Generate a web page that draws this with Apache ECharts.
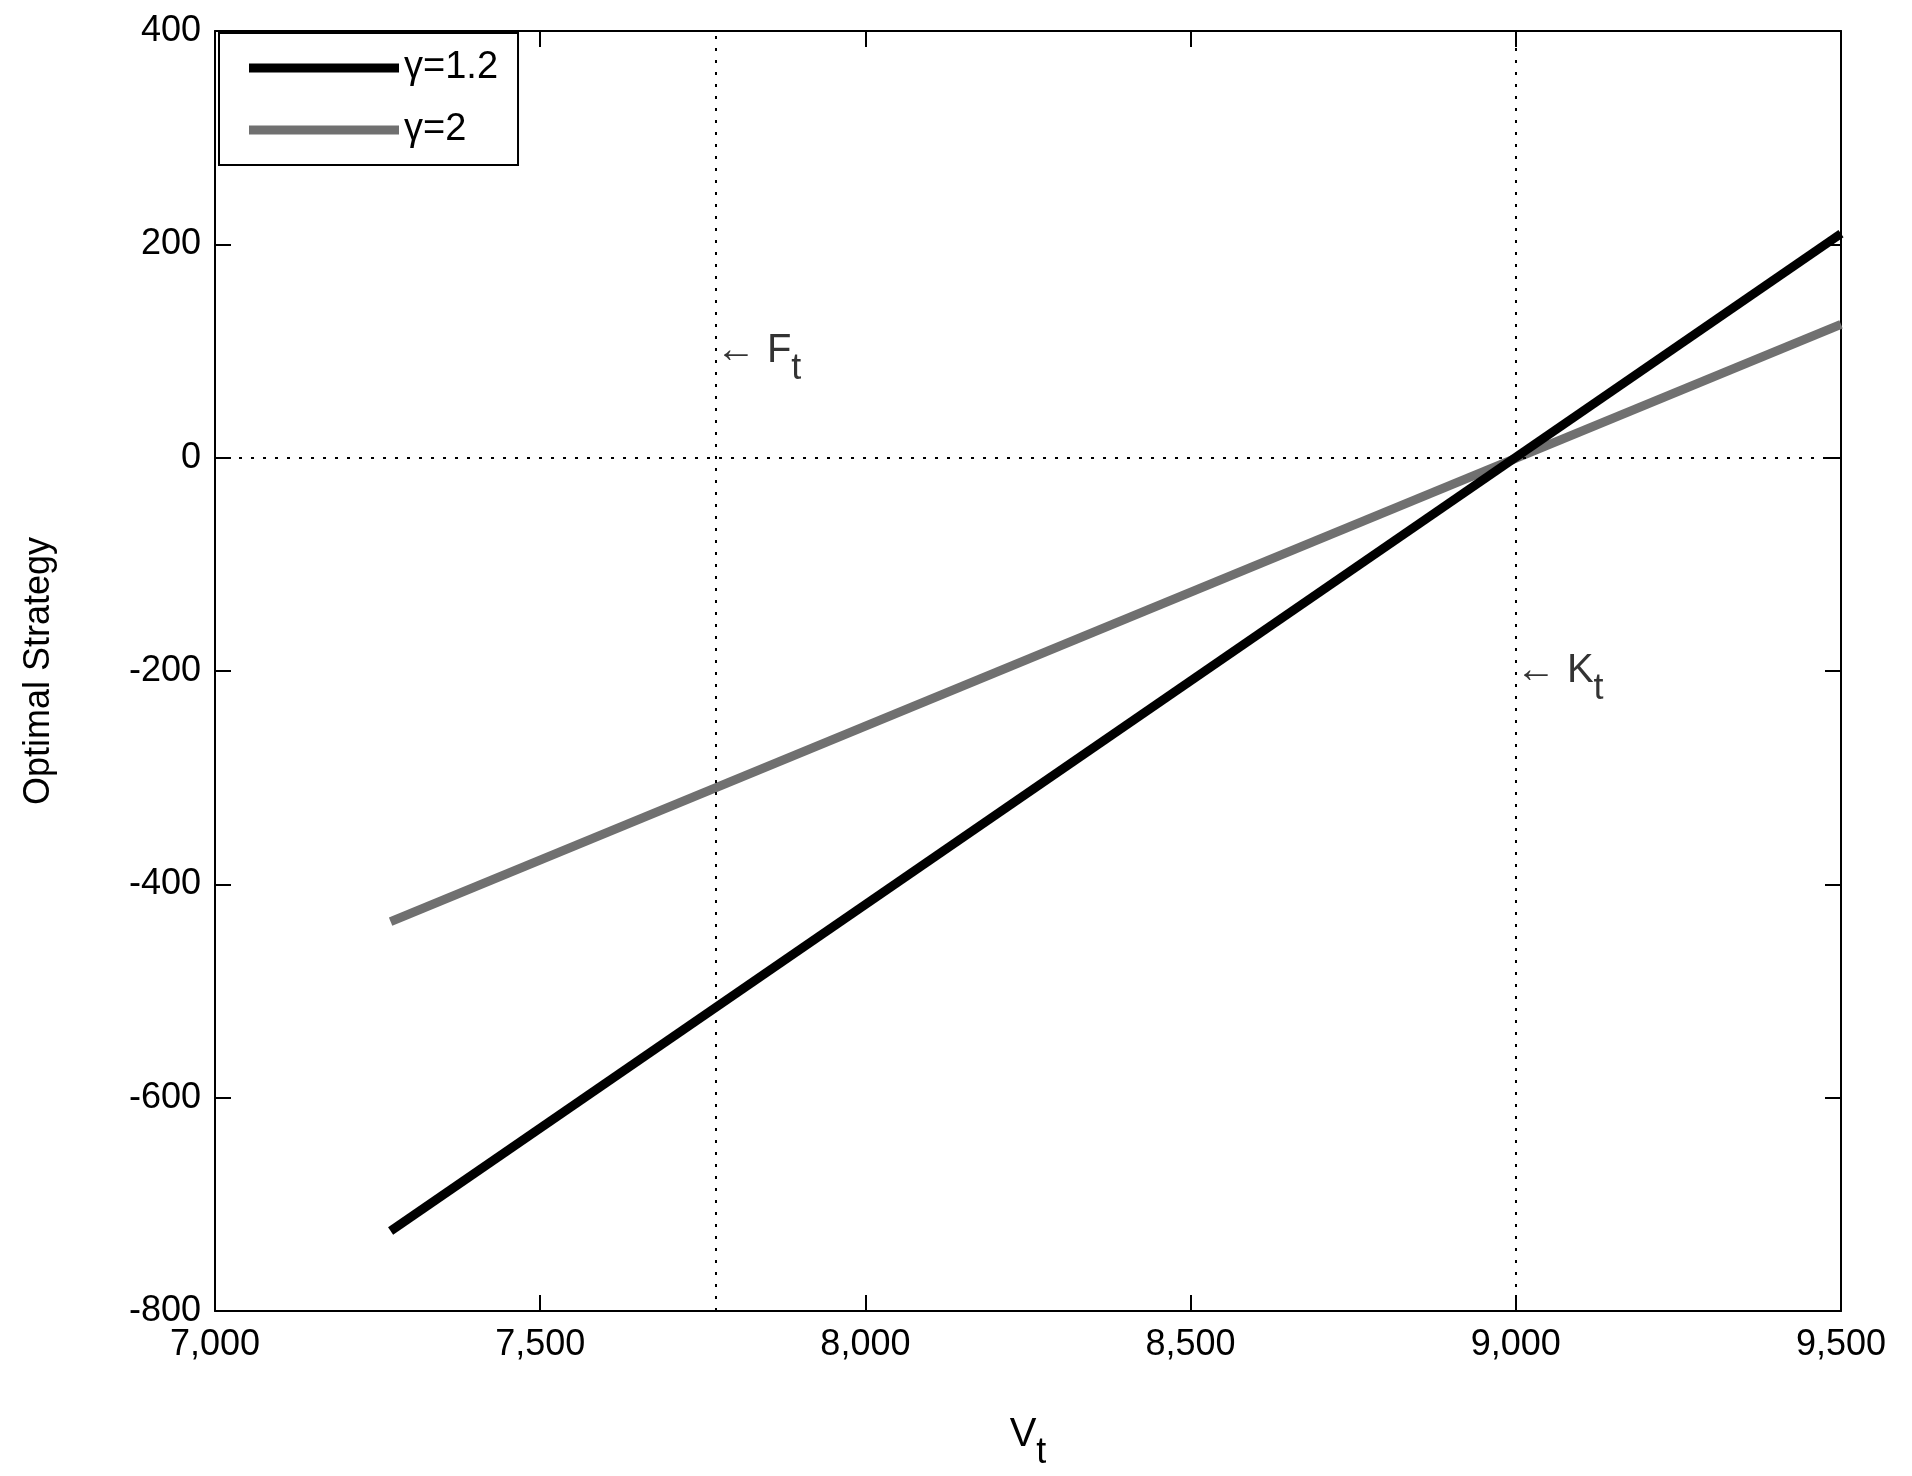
<!DOCTYPE html>
<html>
<head>
<meta charset="utf-8">
<script src="https://cdn.jsdelivr.net/npm/echarts@6/dist/echarts.min.js"></script>
<style>html,body{margin:0;padding:0;background:#fff}#chart{width:1912px;height:1476px}</style>
</head>
<body>
<div id="chart"></div>
<script>
// data
const xTicks = [7000, 9500, 500];
const yTicks = [-800, 400, 200];
const gamma12 = [[7270, -725], [9500, 210]];
const gamma2 = [[7270, -435], [9500, 125]];
const fLine = 7770;
const kLine = 9000;
const notes = [[7770, 100, 'F'], [9000, -200, 'K']];

const font = 'Liberation Sans, Arial, sans-serif';
const chart = echarts.init(document.getElementById('chart'));

const axisCommon = {
    axisLine: { show: true, onZero: false, lineStyle: { color: '#000', width: 2 } },
    axisTick: { show: true, inside: true, length: 16, lineStyle: { color: '#000', width: 2 } },
    splitLine: { show: false }
};

let option = {
    backgroundColor: '#fff',
    animation: false,
    grid: { left: 215, right: 71, top: 31, bottom: 162 },
    legend: {
        left: 219, top: 33, orient: 'vertical',
        padding: [16, 20, 16, 30],
        itemGap: 24,
        borderColor: '#000', borderWidth: 2, backgroundColor: '#fff',
        icon: 'rect', itemWidth: 150, itemHeight: 9,
        textStyle: { fontFamily: font, fontSize: 38, color: '#000' },
        data: ['γ=1.2', 'γ=2']
    },
    xAxis: [
        Object.assign({
            type: 'value', min: xTicks[0], max: xTicks[1], interval: xTicks[2],
            position: 'bottom',
            name: '{b|V}{s|t}', nameLocation: 'middle', nameGap: 88,
            nameTextStyle: { rich: {
                b: { fontFamily: font, fontSize: 40, color: '#000' },
                s: { fontFamily: font, fontSize: 36, color: '#000', padding: [36, 0, 0, 0] }
            } },
            axisLabel: { fontFamily: font, fontSize: 36, color: '#000', margin: 16 }
        }, axisCommon),
        Object.assign({
            type: 'value', min: xTicks[0], max: xTicks[1], interval: xTicks[2],
            position: 'top', axisLabel: { show: false }
        }, axisCommon)
    ],
    yAxis: [
        Object.assign({
            type: 'value', min: yTicks[0], max: yTicks[1], interval: yTicks[2],
            position: 'left',
            name: 'Optimal Strategy', nameLocation: 'middle', nameGap: 158,
            nameTextStyle: { fontFamily: font, fontSize: 36, color: '#000' },
            axisLabel: { fontFamily: font, fontSize: 36, color: '#000', margin: 14 }
        }, axisCommon),
        Object.assign({
            type: 'value', min: yTicks[0], max: yTicks[1], interval: yTicks[2],
            position: 'right', axisLabel: { show: false }
        }, axisCommon)
    ],
    series: [
        {
            name: 'γ=1.2', type: 'line', data: gamma12, showSymbol: false, z: 5,
            lineStyle: { color: '#000', width: 9 }, itemStyle: { color: '#000' },
            markLine: {
                silent: true, symbol: 'none', label: { show: false },
                lineStyle: { color: '#000', type: [3, 9], width: 2 },
                data: [{ xAxis: fLine }, { xAxis: kLine }, { yAxis: 0 }]
            }
        },
        {
            name: 'γ=2', type: 'line', data: gamma2, showSymbol: false, z: 4,
            lineStyle: { color: '#707070', width: 9 }, itemStyle: { color: '#707070' }
        },
        {
            type: 'scatter', symbolSize: 0, silent: true,
            data: notes.map(n => ({ value: [n[0], n[1]], name: n[2] })),
            label: {
                show: true, position: 'right', distance: 0,
                formatter: p => '{b|← ' + p.name + '}{s|t}',
                rich: {
                    b: { fontFamily: font, fontSize: 40, color: '#000' },
                    s: { fontFamily: font, fontSize: 36, color: '#000', padding: [36, 0, 0, 0] }
                }
            }
        }
    ]
};
chart.setOption(option);
</script>
</body>
</html>
